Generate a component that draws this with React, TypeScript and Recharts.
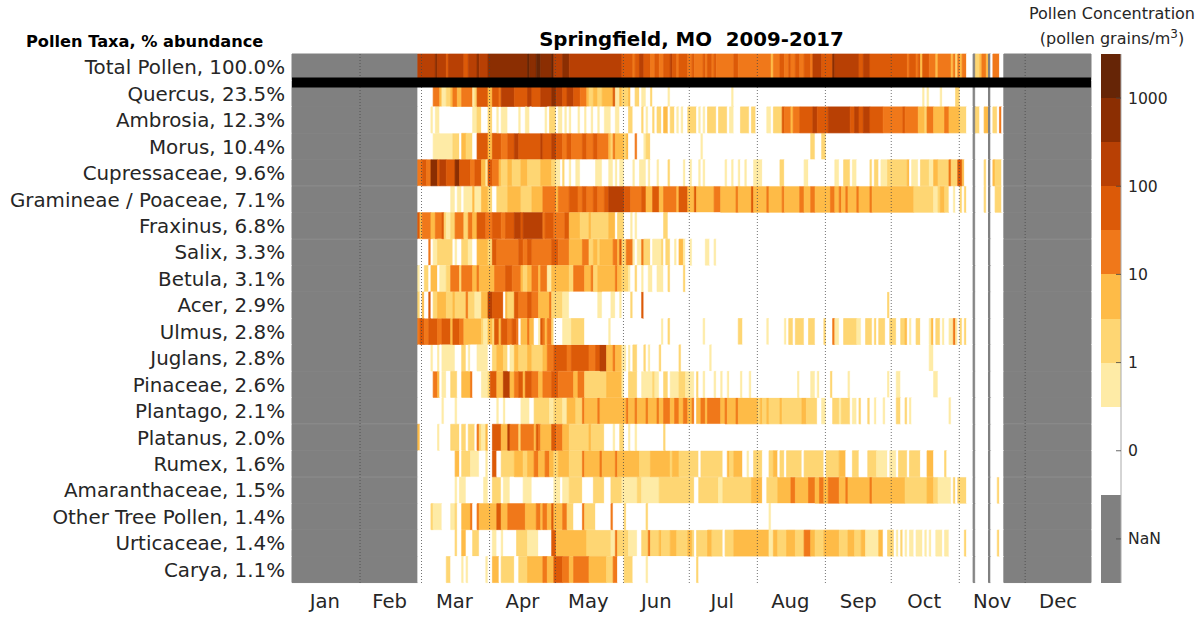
import React from "react";
import { BarChart, Bar, Cell, XAxis, YAxis, ReferenceLine } from "recharts";

const FONT = "'DejaVu Sans', sans-serif";
const TEXT = "#262626";

const taxa = ["Total Pollen, 100.0%", "Quercus, 23.5%", "Ambrosia, 12.3%", "Morus, 10.4%", "Cupressaceae, 9.6%", "Gramineae / Poaceae, 7.1%", "Fraxinus, 6.8%", "Salix, 3.3%", "Betula, 3.1%", "Acer, 2.9%", "Ulmus, 2.8%", "Juglans, 2.8%", "Pinaceae, 2.6%", "Plantago, 2.1%", "Platanus, 2.0%", "Rumex, 1.6%", "Amaranthaceae, 1.5%", "Other Tree Pollen, 1.4%", "Urticaceae, 1.4%", "Carya, 1.1%"];

// colour class: index 0 = zero pollen, 1..8 = rising concentration, 9 = NaN
const levelColors = ["#ffffff", "#feeba6", "#fed673", "#febb47", "#f0781a", "#dc5a08", "#b84004", "#8b2e02", "#662506", "#808080"];
const NAN = 9;

const months = ["Jan", "Feb", "Mar", "Apr", "May", "Jun", "Jul", "Aug", "Sep", "Oct", "Nov", "Dec"];
const monthCentres = [15, 44.5, 74, 105, 135, 166, 196, 227, 258, 288, 319, 349];
const monthStarts = [31, 59, 90, 120, 151, 181, 212, 243, 273, 304, 334];

const firstDay = 58;
const lastDay = 324;
const missingDays = [311, 318];

// each list: [day the class starts, class]
const totalPollen = [[58,6],[66,7],[67,6],[71,5],[72,6],[79,5],[81,6],[85,7],[86,6],[90,7],[108,8],[109,7],[112,8],[114,7],[119,8],[120,6],[124,7],[127,6],[151,5],[156,4],[157,5],[159,6],[161,5],[164,4],[166,5],[168,4],[170,5],[173,6],[174,5],[176,4],[177,5],[181,4],[183,5],[184,4],[188,5],[189,4],[190,5],[192,4],[193,5],[194,4],[202,5],[204,4],[219,3],[220,4],[223,5],[225,4],[227,5],[228,4],[230,5],[232,4],[234,5],[237,4],[238,6],[242,5],[247,7],[248,6],[259,5],[261,6],[264,5],[281,4],[282,5],[285,4],[286,5],[287,3],[288,5],[291,4],[294,3],[295,4],[301,3],[302,4],[303,2],[304,4],[305,3],[306,4],[308,0],[312,2],[314,3],[315,4],[317,3],[319,0],[320,4],[323,0]];
const quercus = [[65,4],[68,3],[69,1],[71,2],[73,3],[74,4],[76,3],[78,4],[83,1],[84,2],[85,5],[90,3],[92,5],[95,4],[96,6],[102,5],[108,6],[110,5],[114,6],[119,7],[121,6],[124,5],[126,6],[129,5],[132,4],[135,3],[136,2],[138,3],[140,2],[142,3],[147,5],[148,1],[150,3],[151,2],[154,3],[155,0],[157,2],[159,0],[160,1],[162,0],[164,2],[165,0],[172,1],[173,0],[201,1],[202,0],[288,1],[289,0],[290,1],[291,0],[296,1],[297,0],[303,2],[305,0]];
const ambrosia = [[64,1],[65,0],[66,1],[68,0],[83,1],[85,2],[87,0],[90,2],[92,0],[94,1],[95,0],[96,1],[99,0],[104,1],[105,0],[107,1],[109,0],[116,1],[117,0],[118,2],[121,0],[122,1],[124,0],[125,1],[126,0],[127,1],[128,0],[131,1],[132,0],[134,1],[135,0],[137,1],[138,0],[140,1],[141,0],[143,1],[146,0],[148,1],[150,0],[154,2],[156,0],[160,2],[161,0],[162,1],[163,0],[165,2],[166,0],[167,2],[169,0],[170,3],[172,0],[173,2],[175,0],[176,1],[177,0],[178,1],[179,0],[181,2],[185,0],[186,1],[187,0],[188,1],[189,0],[190,2],[194,0],[195,2],[199,0],[200,1],[202,0],[205,2],[209,0],[210,2],[212,0],[217,1],[219,0],[220,2],[224,5],[225,4],[228,3],[229,4],[232,5],[238,6],[240,5],[245,6],[255,5],[257,6],[259,5],[261,6],[264,5],[270,4],[279,5],[280,4],[286,3],[289,2],[290,4],[293,3],[298,4],[300,3],[305,2],[308,0],[312,2],[314,0],[316,3],[318,0],[320,2],[322,0],[323,4],[324,0]];
const morus = [[65,1],[74,2],[77,0],[78,3],[80,2],[83,0],[85,5],[90,3],[92,5],[96,4],[99,5],[102,6],[104,5],[114,6],[115,5],[119,6],[121,5],[124,4],[126,5],[128,4],[133,5],[135,4],[138,5],[140,4],[145,3],[146,2],[147,4],[148,3],[152,2],[153,3],[154,0],[157,4],[158,0],[161,1],[162,2],[164,0],[187,1],[188,0],[237,2],[239,0],[242,2],[244,0]];
const cupressaceae = [[58,4],[60,5],[62,4],[64,7],[67,5],[68,6],[71,5],[75,7],[77,5],[82,4],[84,5],[87,3],[89,1],[90,5],[92,4],[95,3],[96,2],[99,3],[101,2],[105,3],[108,2],[114,3],[119,2],[121,1],[123,0],[124,2],[125,0],[127,1],[128,0],[130,1],[132,0],[139,1],[142,0],[145,1],[147,0],[148,1],[149,0],[150,1],[152,0],[156,1],[157,0],[159,1],[162,0],[163,1],[164,0],[167,1],[168,0],[172,2],[173,0],[179,1],[180,0],[182,1],[183,0],[186,1],[187,0],[188,1],[189,0],[198,1],[199,0],[201,1],[202,0],[204,1],[205,0],[207,1],[208,0],[211,1],[215,0],[223,2],[225,0],[234,1],[236,0],[248,1],[250,0],[252,2],[255,0],[256,1],[258,0],[264,2],[265,0],[266,2],[268,0],[269,1],[272,2],[281,3],[282,0],[283,1],[286,0],[287,2],[291,1],[293,3],[295,2],[300,4],[301,2],[304,5],[306,3],[307,0],[316,2],[317,0],[320,3],[321,2],[324,0]];
const gramineae = [[73,1],[75,0],[76,1],[78,0],[79,1],[83,3],[84,1],[87,3],[90,2],[92,0],[94,2],[99,3],[105,2],[110,3],[115,4],[121,3],[122,4],[127,5],[131,4],[133,5],[135,4],[138,5],[140,4],[143,5],[145,6],[152,5],[155,4],[160,5],[162,3],[165,5],[168,3],[170,4],[176,3],[177,5],[181,3],[184,5],[185,3],[193,4],[196,3],[203,4],[204,3],[210,5],[211,3],[217,4],[218,3],[224,4],[225,3],[232,4],[234,3],[237,4],[239,3],[246,4],[248,3],[250,4],[251,3],[253,4],[254,3],[258,4],[259,3],[264,4],[265,3],[284,2],[293,1],[295,2],[296,3],[298,2],[300,0],[302,1],[303,0],[305,2],[306,0],[307,2],[308,0],[316,2],[317,0],[321,2],[324,0]];
const fraxinus = [[58,5],[59,3],[60,4],[64,3],[66,4],[69,5],[70,2],[71,1],[73,2],[75,4],[79,2],[81,4],[83,3],[85,5],[89,4],[92,5],[96,4],[98,5],[102,6],[105,5],[106,6],[115,4],[116,5],[120,4],[125,5],[127,3],[132,2],[136,3],[137,2],[145,3],[148,0],[149,2],[152,0],[155,1],[156,0],[157,1],[158,0],[170,2],[172,0]];
const salix = [[63,4],[64,0],[65,1],[67,2],[74,0],[75,1],[76,0],[78,2],[81,1],[83,0],[85,3],[90,2],[92,5],[94,4],[104,5],[106,4],[108,5],[110,4],[119,5],[122,4],[127,3],[133,4],[136,2],[138,3],[140,2],[141,3],[147,4],[149,3],[150,5],[151,2],[153,4],[156,1],[157,0],[158,1],[160,4],[161,2],[164,0],[165,1],[169,2],[170,0],[171,2],[173,0],[175,1],[176,0],[177,3],[179,1],[180,0],[182,1],[183,0],[189,1],[191,0],[193,1],[194,0]];
const betula = [[58,1],[59,0],[61,2],[63,0],[64,3],[67,0],[68,1],[71,2],[73,4],[77,2],[78,4],[83,3],[85,4],[86,3],[93,4],[98,5],[101,4],[105,3],[106,2],[108,3],[110,4],[113,3],[114,4],[117,1],[119,3],[127,2],[129,4],[134,3],[137,4],[138,2],[140,3],[148,4],[149,3],[151,2],[154,1],[155,0],[157,2],[158,0],[160,1],[161,0],[163,1],[165,0],[167,1],[170,0],[172,2],[173,0],[179,2],[180,0]];
const acer = [[58,2],[59,0],[60,3],[61,0],[63,5],[64,0],[65,2],[67,3],[71,2],[74,3],[75,2],[80,4],[81,2],[84,1],[87,3],[90,6],[92,5],[97,0],[98,3],[99,2],[102,5],[104,4],[108,5],[110,4],[113,3],[118,4],[119,2],[124,1],[127,0],[140,1],[142,0],[146,1],[148,0],[150,1],[151,0],[155,2],[156,0],[160,5],[161,0],[272,2],[273,0]];
const ulmus = [[58,4],[59,5],[61,4],[63,5],[67,4],[69,5],[73,3],[74,5],[77,4],[79,3],[87,2],[88,1],[90,3],[92,2],[93,5],[95,3],[96,5],[99,4],[101,5],[103,4],[104,0],[105,3],[108,4],[109,3],[111,0],[113,1],[114,5],[115,4],[116,3],[117,4],[119,2],[120,0],[124,1],[128,2],[134,0],[145,1],[146,0],[169,1],[170,0],[172,2],[173,0],[188,1],[189,0],[204,2],[206,0],[217,1],[218,0],[225,1],[226,0],[227,2],[229,0],[230,2],[234,0],[236,2],[239,0],[243,2],[244,0],[247,4],[248,1],[250,0],[252,2],[258,1],[260,0],[262,2],[265,0],[266,2],[267,0],[268,2],[271,0],[273,2],[276,0],[278,2],[280,3],[281,0],[282,1],[283,0],[285,2],[287,0],[291,1],[292,3],[293,0],[294,2],[296,0],[297,1],[298,0],[300,1],[302,4],[303,1],[304,0],[305,2],[306,0],[307,2],[308,0]];
const juglans = [[64,1],[65,0],[67,1],[68,0],[69,1],[75,0],[78,2],[80,0],[81,1],[82,0],[85,1],[90,0],[92,2],[94,3],[97,2],[99,0],[100,1],[102,3],[104,2],[108,3],[110,2],[115,3],[117,4],[120,5],[126,4],[128,5],[136,4],[139,5],[141,6],[144,3],[147,4],[148,3],[151,1],[153,0],[154,1],[155,0],[156,2],[158,0],[161,2],[162,0],[163,1],[164,0],[168,2],[169,0],[177,2],[178,0],[191,1],[192,0],[291,1],[293,0]];
const pinaceae = [[65,4],[67,3],[68,0],[69,1],[71,0],[73,2],[76,0],[78,3],[82,4],[83,0],[87,1],[90,2],[91,5],[94,3],[97,6],[100,3],[102,4],[104,5],[106,3],[107,5],[110,4],[113,3],[115,4],[119,5],[122,4],[129,3],[131,4],[134,2],[144,3],[151,1],[152,0],[154,2],[158,0],[160,1],[165,2],[166,1],[168,0],[170,2],[172,0],[173,1],[177,2],[180,1],[182,1],[184,0],[185,2],[186,0],[188,1],[189,0],[193,1],[194,0],[196,1],[197,0],[199,1],[200,0],[205,1],[206,0],[209,1],[210,0],[231,1],[232,0],[237,1],[239,0],[240,1],[241,0],[246,2],[247,0],[254,1],[255,0],[272,1],[273,0],[276,1],[278,0],[293,1],[295,0]];
const plantago = [[69,1],[70,0],[75,1],[76,0],[94,1],[95,0],[97,1],[98,0],[105,1],[109,0],[111,2],[118,1],[120,2],[124,1],[126,3],[130,2],[133,4],[134,3],[140,4],[141,3],[153,4],[154,3],[157,4],[158,3],[162,4],[163,3],[167,4],[168,3],[170,4],[173,3],[175,4],[177,3],[179,4],[181,3],[183,4],[184,0],[185,3],[187,4],[189,3],[190,4],[196,3],[198,4],[199,3],[203,4],[204,3],[213,2],[214,3],[215,2],[217,3],[218,2],[223,3],[224,2],[233,3],[235,2],[240,0],[242,1],[244,0],[247,2],[250,1],[251,2],[255,0],[256,1],[258,0],[259,2],[260,0],[263,2],[264,0],[266,1],[267,0],[270,1],[271,0],[276,2],[278,0],[280,2],[281,0],[282,1],[283,0],[300,1],[301,0]];
const platanus = [[58,3],[59,0],[67,1],[68,0],[73,2],[77,0],[78,2],[80,0],[81,2],[84,0],[85,4],[86,2],[87,1],[89,3],[90,0],[92,5],[96,3],[99,6],[100,4],[104,2],[105,4],[111,3],[112,5],[113,4],[114,3],[119,5],[121,4],[124,3],[127,2],[136,3],[137,2],[143,0],[147,1],[148,0],[150,2],[152,0],[154,1],[155,0],[157,1],[158,0],[170,2],[171,0]];
const rumex = [[75,3],[77,0],[78,2],[82,1],[86,0],[89,1],[90,0],[92,5],[94,0],[96,2],[102,3],[106,2],[108,3],[111,4],[113,3],[116,4],[118,3],[120,2],[122,3],[127,2],[133,4],[134,3],[141,4],[142,3],[148,4],[149,3],[159,2],[164,3],[173,2],[174,3],[177,2],[186,0],[187,2],[197,0],[199,3],[200,2],[202,3],[206,0],[208,1],[209,0],[211,2],[215,0],[218,2],[220,3],[222,0],[223,2],[225,0],[226,2],[233,0],[234,2],[243,0],[244,2],[250,3],[253,0],[256,2],[259,0],[263,2],[267,1],[272,0],[273,1],[276,0],[277,2],[281,0],[282,2],[287,0],[290,3],[293,0],[298,2],[299,0]];
const amaranthaceae = [[75,1],[76,0],[77,1],[80,0],[88,1],[90,0],[92,2],[96,0],[97,1],[100,0],[106,1],[110,0],[120,1],[123,0],[124,1],[127,2],[133,0],[138,2],[143,0],[146,2],[151,1],[158,2],[160,1],[168,2],[184,0],[186,2],[195,1],[197,2],[210,3],[215,0],[217,2],[222,3],[228,4],[230,3],[236,4],[239,3],[241,4],[243,3],[245,4],[250,3],[253,4],[254,3],[264,4],[265,3],[280,2],[290,3],[293,2],[295,1],[301,0],[302,2],[303,0],[304,2],[308,0],[322,2],[323,0]];
const otherTree = [[64,2],[65,1],[69,0],[73,1],[75,2],[76,0],[78,3],[82,4],[83,0],[85,4],[86,3],[94,5],[96,3],[99,4],[107,3],[112,4],[114,3],[115,4],[117,3],[119,5],[120,3],[124,4],[126,2],[129,0],[133,4],[134,2],[136,2],[139,0],[146,4],[147,0],[152,2],[153,0],[162,2],[163,0],[218,1],[219,0]];
const urticaceae = [[75,2],[76,0],[78,3],[80,0],[83,2],[86,0],[92,1],[94,0],[96,1],[97,0],[103,2],[108,1],[113,0],[119,5],[121,3],[135,2],[146,1],[148,4],[149,2],[154,1],[158,0],[160,2],[163,4],[164,2],[168,3],[169,2],[173,3],[176,2],[181,3],[183,2],[184,0],[185,2],[190,3],[192,2],[197,0],[198,2],[202,3],[210,3],[218,1],[220,3],[222,2],[226,3],[230,2],[234,4],[237,3],[239,2],[243,3],[250,2],[254,3],[257,2],[260,3],[262,1],[268,3],[270,0],[272,2],[275,0],[276,1],[277,0],[278,2],[279,0],[280,1],[281,0],[282,1],[284,0],[285,1],[288,0],[289,1],[290,0],[291,1],[292,0],[294,1],[297,0],[298,1],[300,0],[307,2],[308,0],[322,2],[323,0]];
const carya = [[71,2],[73,0],[78,1],[79,0],[80,1],[81,0],[89,1],[90,0],[92,3],[95,0],[96,2],[102,0],[104,2],[108,3],[115,4],[117,3],[120,5],[124,4],[127,3],[129,4],[136,3],[144,2],[147,4],[149,0],[152,2],[156,0],[162,1],[163,0],[185,2],[186,0]];

const taxonRuns = [totalPollen, quercus, ambrosia, morus, cupressaceae, gramineae, fraxinus, salix, betula, acer, ulmus, juglans, pinaceae, plantago, platanus, rumex, amaranthaceae, otherTree, urticaceae, carya];

const barUnits = [2, 2, 1, 1, 1, 1, 1, 1, 1, 1];
const barLevels = [NAN, 0, 1, 2, 3, 4, 5, 6, 7, 8];
const barTicks = [1, 3, 5, 7, 9, 11];
const barTickLabels = ["NaN", "0", "1", "10", "100", "1000"];

const DAY_EDGE = 0.7; // a day cell starts this far before its day number
const AXIS_END = 364;

function toSegments(pairs: number[][]) {
  const days: number[] = [];
  for (let d = firstDay; d <= lastDay; d++) {
    let lv = 0;
    for (const [s, l] of pairs) if (s <= d) lv = l;
    days.push(missingDays.includes(d) ? NAN : lv);
  }
  const segs: { level: number; span: number }[] = [{ level: NAN, span: firstDay - DAY_EDGE }];
  days.forEach((lv) => {
    const last = segs[segs.length - 1];
    if (last.level === lv) last.span += 1;
    else segs.push({ level: lv, span: 1 });
  });
  const used = segs.reduce((a, s) => a + s.span, 0);
  segs.push({ level: NAN, span: AXIS_END - used });
  return segs;
}

const segmentsByTaxon = taxonRuns.map(toSegments);
const maxSegs = Math.max(...segmentsByTaxon.map((s) => s.length));
const segIndex = Array.from({ length: maxSegs }, (_, i) => i);
const rows = taxa.map((taxon, r) => {
  const row: Record<string, string | number> = { taxon };
  segIndex.forEach((i) => {
    row[`s${i}`] = segmentsByTaxon[r][i] ? segmentsByTaxon[r][i].span : 0;
  });
  return row;
});

const barRow: Record<string, string | number> = { name: "scale" };
barUnits.forEach((u, i) => {
  barRow[`c${i}`] = u;
});

function ColorTick(props: any) {
  const { x, y, payload } = props;
  const label = barTickLabels[barTicks.indexOf(payload.value)];
  const edge = x - 8;
  return (
    <g>
      <line x1={edge - 5} x2={edge} y1={y} y2={y} stroke="#444" strokeWidth={0.8} />
      <text x={edge + 7} y={y + 5.5} fontSize={15.6} fontFamily={FONT} fill={TEXT}>{label}</text>
    </g>
  );
}

const label = (s: React.CSSProperties): React.CSSProperties => ({
  position: "absolute",
  fontFamily: FONT,
  whiteSpace: "nowrap",
  lineHeight: 1,
  color: "#000",
  ...s,
});

export default function App() {
  return (
    <div style={{ position: "absolute", left: 0, top: 0, width: 1203, height: 618, background: "#fff", overflow: "hidden" }}>
      <div style={label({ left: 26, top: 34, fontSize: 16.2, fontWeight: 700 })}>Pollen Taxa, % abundance</div>
      <div style={label({ left: 292, width: 799, top: 30, fontSize: 19.75, fontWeight: 700, textAlign: "center", whiteSpace: "pre" })}>{"Springfield, MO  2009-2017"}</div>
      <div style={label({ left: 1012, width: 200, top: 6, fontSize: 16, textAlign: "center", color: TEXT })}>Pollen Concentration</div>
      <div style={label({ left: 1012, width: 200, top: 31, fontSize: 16, textAlign: "center", color: TEXT })}>
        (pollen grains/m<span style={{ fontSize: 12, position: "relative", top: -6 }}>3</span>)
      </div>

      <div style={{ position: "absolute", left: 0, top: 0 }}>
        <BarChart
          width={1203}
          height={618}
          data={rows}
          layout="vertical"
          barCategoryGap={0}
          barGap={0}
          margin={{ top: 54, right: 112, bottom: 0, left: 0 }}
        >
          <XAxis
            type="number"
            domain={[0, AXIS_END]}
            ticks={monthCentres}
            tickFormatter={(v: number) => months[monthCentres.indexOf(v)]}
            axisLine={false}
            tickLine={false}
            height={35}
            tickMargin={5}
            interval={0}
            tick={{ fontSize: 19.6, fontFamily: FONT, fill: TEXT }}
          />
          <YAxis
            type="category"
            dataKey="taxon"
            width={292}
            interval={0}
            axisLine={false}
            tickLine={false}
            tickSize={4}
            tickMargin={3}
            tick={{ fontSize: 19.85, fontFamily: FONT, fill: TEXT }}
          />
          <YAxis yAxisId="band" type="number" domain={[0, 20]} hide />
          {segIndex.map((i) => (
            <Bar key={i} dataKey={`s${i}`} stackId="days" isAnimationActive={false}>
              {rows.map((_, r) => {
                const seg = segmentsByTaxon[r][i];
                const colour = levelColors[seg ? seg.level : 0];
                return <Cell key={r} fill={colour} stroke={colour} strokeWidth={seg && seg.level === NAN ? 1 : 0.7} />;
              })}
            </Bar>
          ))}
          {monthStarts.map((d) => (
            <ReferenceLine key={d} x={d} stroke="#444" strokeOpacity={0.75} strokeWidth={1} strokeDasharray="1 2" />
          ))}
          <ReferenceLine yAxisId="band" y={1.02} stroke="#000" strokeWidth={10} />
        </BarChart>
      </div>

      <div style={{ position: "absolute", left: 1101, top: 54 }}>
        <BarChart
          width={102}
          height={529}
          data={[barRow]}
          barCategoryGap={0}
          margin={{ top: 0, right: 0, bottom: 0, left: 0 }}
        >
          <XAxis dataKey="name" hide />
          <YAxis
            orientation="right"
            type="number"
            domain={[0, 12]}
            ticks={barTicks}
            interval={0}
            width={82}
            tickLine={false}
            axisLine={{ stroke: "#aaa" }}
            tick={ColorTick}
          />
          <YAxis
            yAxisId="edge"
            orientation="left"
            type="number"
            domain={[0, 12]}
            width={0}
            tick={false}
            tickLine={false}
            axisLine={{ stroke: "#aaa" }}
          />
          {barUnits.map((_, i) => (
            <Bar key={i} dataKey={`c${i}`} stackId="scale" fill={levelColors[barLevels[i]]} isAnimationActive={false} shapeRendering="crispEdges" />
          ))}
        </BarChart>
      </div>
    </div>
  );
}
